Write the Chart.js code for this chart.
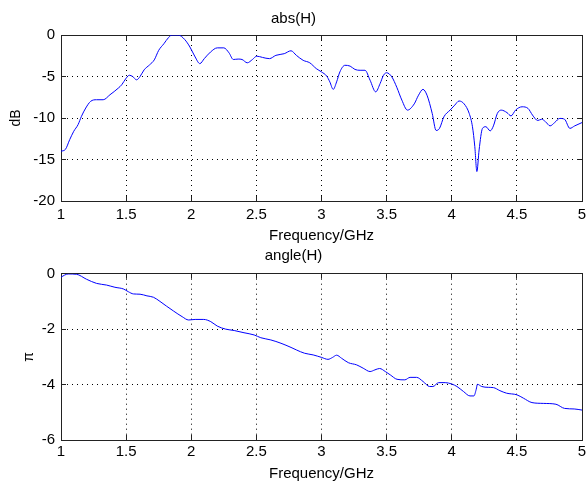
<!DOCTYPE html>
<html>
<head>
<meta charset="utf-8">
<script src="https://cdn.jsdelivr.net/npm/chart.js@4/dist/chart.umd.min.js"></script>
<style>
  html, body { margin: 0; padding: 0; background: #fff; }
  #wrap { position: relative; width: 587px; height: 483px; overflow: hidden; }
  .box { position: absolute; left: 0; width: 587px; }
  #absBox { top: 0; height: 245px; }
  #angleBox { top: 240px; height: 243px; }
</style>
</head>
<body>
<div id="wrap">
  <div class="box" id="absBox"><canvas id="absChart" width="587" height="245"></canvas></div>
  <div class="box" id="angleBox"><canvas id="angleChart" width="587" height="243"></canvas></div>
</div>
<script>
// tick values
const freqTicks = [1, 1.5, 2, 2.5, 3, 3.5, 4, 4.5, 5];
const dbTicks = [-20, -15, -10, -5, 0];
const angleTicks = [-6, -4, -2, 0];

// abs(H), dB
const absFreq = [1.0,1.033,1.067,1.098,1.131,1.157,1.19,1.227,1.273,1.324,1.376,1.44,1.466,1.5,1.525,1.55,1.58,1.607,1.638,1.68,
  1.716,1.75,1.79,1.826,1.852,1.9,1.95,1.99,2.03,2.066,2.1,2.148,2.2,2.25,2.29,2.323,2.36,2.39,2.43,2.47,
  2.503,2.547,2.6,2.65,2.714,2.766,2.807,2.859,2.91,2.96,3.0,3.04,3.064,3.09,3.116,3.141,3.18,3.22,3.257,3.296,
  3.334,3.373,3.416,3.45,3.476,3.5,3.54,3.578,3.617,3.66,3.712,3.745,3.779,3.81,3.85,3.88,3.906,3.94,3.987,4.023,
  4.056,4.095,4.134,4.159,4.177,4.193,4.21,4.236,4.262,4.295,4.32,4.35,4.38,4.424,4.455,4.49,4.54,4.586,4.62,4.66,
  4.69,4.72,4.755,4.79,4.83,4.866,4.907,4.944,5.0];
const absDb = [-14,-13.8,-12.6,-11.6,-10.8,-9.8,-8.8,-8.0,-7.8,-7.8,-7.2,-6.4,-6.0,-5.2,-4.85,-5.0,-5.4,-5.0,-4.2,-3.6,
  -3.0,-1.85,-1.05,-0.3,0,0,-0.55,-1.45,-2.65,-3.45,-2.85,-2.05,-1.55,-1.55,-2.15,-2.95,-2.9,-2.95,-3.35,-2.95,
  -2.55,-2.7,-2.85,-2.45,-2.25,-1.9,-2.45,-3.05,-3.35,-4.05,-4.45,-4.95,-5.65,-6.55,-5.65,-4.45,-3.65,-3.75,-4.15,-4.25,
  -4.25,-5.45,-6.85,-5.85,-4.85,-4.55,-5.05,-6.3,-7.85,-9.05,-8.3,-7.25,-6.55,-7.25,-9.45,-11.5,-11.25,-9.85,-9.05,-8.45,
  -7.95,-8.3,-9.45,-11.05,-13.45,-16.45,-13.85,-11.25,-11.05,-11.55,-10.95,-9.45,-9.05,-9.35,-9.75,-9.05,-8.65,-8.85,-9.65,-10.3,
  -10.15,-10.45,-10.95,-10.55,-10.05,-10.15,-11.25,-10.95,-10.55];

// angle(H)
const angleFreq = [1.0,1.028,1.054,1.118,1.196,1.273,1.35,1.414,1.479,1.517,1.556,1.607,1.66,1.71,1.76,1.81,1.865,1.93,1.98,2.03,
  2.096,2.15,2.2,2.264,2.33,2.405,2.483,2.534,2.611,2.689,2.766,2.807,2.87,2.936,3.0,3.05,3.085,3.116,3.154,3.206,
  3.27,3.32,3.373,3.41,3.446,3.49,3.528,3.58,3.64,3.68,3.73,3.78,3.83,3.855,3.9,3.95,4.0,4.04,4.09,4.14,
  4.17,4.188,4.197,4.23,4.28,4.32,4.37,4.42,4.5,4.55,4.616,4.706,4.8,4.866,4.94,5.0];
const angleVal = [-0.13,-0.05,-0.01,-0.02,-0.2,-0.35,-0.41,-0.49,-0.55,-0.65,-0.73,-0.74,-0.8,-0.85,-1.0,-1.17,-1.35,-1.55,-1.67,-1.65,
  -1.65,-1.73,-1.89,-2.0,-2.05,-2.13,-2.21,-2.31,-2.39,-2.51,-2.66,-2.75,-2.87,-2.93,-3.02,-3.09,-3.02,-2.94,-3.05,-3.21,
  -3.29,-3.41,-3.53,-3.47,-3.42,-3.53,-3.65,-3.81,-3.83,-3.74,-3.74,-3.89,-4.07,-4.07,-3.93,-3.93,-3.98,-4.07,-4.25,-4.41,
  -4.41,-4.17,-3.99,-4.07,-4.1,-4.11,-4.22,-4.31,-4.37,-4.49,-4.65,-4.68,-4.71,-4.86,-4.88,-4.92];

Chart.defaults.font.family = "'Liberation Sans', Arial, sans-serif";
Chart.defaults.color = '#000';

function setTicks(values) {
  return scale => { scale.ticks = values.map(v => ({ value: v })); };
}

function makeChart(id, c) {
  const xs = c.xData, ys = c.yData;
  const points = xs.map((x, i) => ({ x: x, y: ys[i] }));
  const inner = { color: '#000', tickLength: -5, tickColor: '#222', tickWidth: 1, lineWidth: 1 };
  return new Chart(document.getElementById(id), {
    type: 'line',
    data: {
      datasets: [{
        data: points,
        borderColor: '#0000ff',
        borderWidth: 1,
        pointRadius: 0,
        fill: false,
        cubicInterpolationMode: 'monotone'
      }]
    },
    options: {
      responsive: false,
      animation: false,
      layout: { padding: 0 },
      plugins: {
        legend: { display: false },
        tooltip: { enabled: false },
        title: {
          display: true,
          text: c.title,
          color: '#000',
          font: { size: 15, weight: 'normal' },
          padding: c.titlePad
        }
      },
      scales: {
        x: {
          type: 'linear', position: 'bottom', min: 1, max: 5,
          afterBuildTicks: setTicks(freqTicks),
          afterFit: s => { s.height = c.xHeight; },
          // label offset is done with lineHeight so the tick padding does not eat into the right margin
          ticks: { font: { size: 15, lineHeight: c.xTickLine }, padding: 0, maxRotation: 0, autoSkip: false, callback: v => String(v) },
          grid: inner,
          border: { color: '#222', width: 1, dash: [1, 4] },
          title: { display: true, text: 'Frequency/GHz', font: { size: 15 }, padding: { top: 0, bottom: 0.5 } }
        },
        y: {
          type: 'linear', position: 'left', min: c.yMin, max: c.yMax,
          afterBuildTicks: setTicks(c.yTicks),
          afterFit: s => { s.width = 61; },
          ticks: { font: { size: 15 }, padding: 11, callback: v => String(v) },
          grid: inner,
          border: { color: '#222', width: 1, dash: [1, 4] },
          title: { display: true, text: c.yLabel, font: { size: 14 }, padding: { top: c.yTitlePad, bottom: 0 } }
        },
        x2: {
          type: 'linear', position: 'top', min: 1, max: 5,
          afterBuildTicks: setTicks(freqTicks),
          afterFit: s => { s.height = 0; },
          ticks: { display: false },
          grid: { drawOnChartArea: false, tickLength: -5, tickColor: '#222' },
          border: { color: '#222', width: 1 }
        },
        y2: {
          type: 'linear', position: 'right', min: c.yMin, max: c.yMax,
          afterBuildTicks: setTicks(c.yTicks),
          afterFit: s => { s.width = 5; },
          ticks: { display: false },
          grid: { drawOnChartArea: false, tickLength: -5, tickColor: '#222' },
          border: { color: '#222', width: 1 }
        }
      }
    }
  });
}

makeChart('absChart', {
  xData: absFreq, yData: absDb,
  title: 'abs(H)', titlePad: { top: 9.5, bottom: 7.5 },
  yMin: -20, yMax: 0, yTicks: dbTicks, yLabel: 'dB', yTitlePad: 7.6,
  xHeight: 44, xTickLine: '38px'
});

makeChart('angleChart', {
  xData: angleFreq, yData: angleVal,
  title: 'angle(H)', titlePad: { top: 7, bottom: 8.7 },
  yMin: -6, yMax: 0, yTicks: angleTicks, yLabel: 'π', yTitlePad: 20.6,
  xHeight: 43, xTickLine: '34px'
});
</script>
</body>
</html>
